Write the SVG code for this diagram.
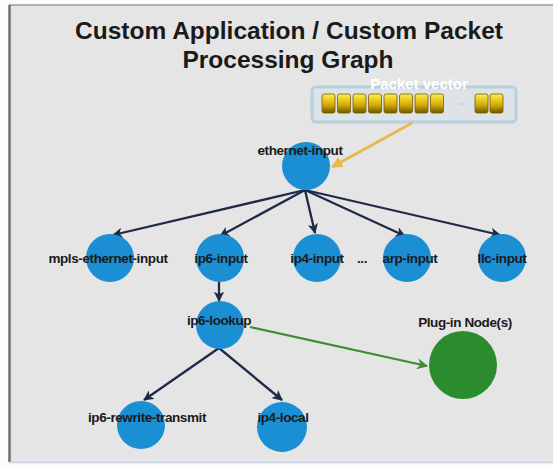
<svg xmlns="http://www.w3.org/2000/svg" width="553" height="466" viewBox="0 0 553 466">
<defs>
<marker id="ah" viewBox="0 0 10 10" refX="9" refY="5" markerWidth="4.5" markerHeight="4.5" orient="auto" markerUnits="strokeWidth">
<path d="M0,0 L10,5 L0,10 L2.5,5 z" fill="#1e2a48"/>
</marker>
<marker id="ahg" viewBox="0 0 10 10" refX="9" refY="5" markerWidth="5" markerHeight="5" orient="auto" markerUnits="strokeWidth">
<path d="M0,0 L10,5 L0,10 L3,5 z" fill="#3f8a34"/>
</marker>
<marker id="ahy" viewBox="0 0 10 10" refX="9" refY="5" markerWidth="4" markerHeight="4" orient="auto" markerUnits="strokeWidth">
<path d="M0,0 L10,5 L0,10 z" fill="#e8b84a"/>
</marker>
<linearGradient id="blk" x1="0" y1="0" x2="0" y2="1">
<stop offset="0" stop-color="#fff04a"/>
<stop offset="0.6" stop-color="#d0a800"/>
<stop offset="1" stop-color="#6e5200"/>
</linearGradient>
</defs>
<style>
.lbl{font-family:"Liberation Sans",Arial,sans-serif;font-weight:bold;font-size:13.5px;fill:#1a1a1a;text-anchor:middle;letter-spacing:-0.4px}
.title{font-family:"Liberation Sans",Arial,sans-serif;font-weight:bold;font-size:24.5px;fill:#1a1a1a;text-anchor:middle}
.node{fill:#1a8fd4}
.edge{stroke:#1e2a48;stroke-width:2.3;fill:none;marker-end:url(#ah)}
.blk{fill:url(#blk);stroke:#7a5c00;stroke-width:0.8}
</style>
<rect x="0" y="0" width="553" height="466" fill="#fbfbfb"/>
<rect x="9" y="5" width="550" height="457" fill="#e5e5e5"/>
<line x1="9" y1="5" x2="553" y2="5" stroke="#9a9a9a" stroke-width="1.5"/>
<line x1="9.5" y1="5" x2="9.5" y2="462" stroke="#6e6e72" stroke-width="2.5"/>
<line x1="9" y1="462.5" x2="553" y2="462.5" stroke="#c8cfe0" stroke-width="1.5"/>
<text class="title" x="289" y="39">Custom Application / Custom Packet</text>
<text class="title" x="288" y="68">Processing Graph</text>
<g id="packet-vector">
<rect x="312" y="87" width="204" height="35" rx="4" fill="#dde3e6" stroke="#b7d0de" stroke-width="3"/>
<text x="419" y="89" style="font-family:'Liberation Sans',Arial,sans-serif;font-weight:bold;font-size:15px;fill:#ffffff;text-anchor:middle">Packet vector</text>
<rect class="blk" x="322" y="94" width="13" height="19" rx="2"/>
<rect class="blk" x="337.5" y="94" width="13" height="19" rx="2"/>
<rect class="blk" x="353" y="94" width="13" height="19" rx="2"/>
<rect class="blk" x="368.5" y="94" width="13" height="19" rx="2"/>
<rect class="blk" x="384" y="94" width="13" height="19" rx="2"/>
<rect class="blk" x="399.5" y="94" width="13" height="19" rx="2"/>
<rect class="blk" x="415" y="94" width="13" height="19" rx="2"/>
<rect class="blk" x="430.5" y="94" width="13" height="19" rx="2"/>
<line x1="459" y1="104" x2="464" y2="104" stroke="#d8cfa0" stroke-width="1.2"/>
<rect class="blk" x="475" y="94" width="13" height="19" rx="2"/>
<rect class="blk" x="490" y="94" width="13" height="19" rx="2"/>
</g>
<g id="connectors">
<line x1="412" y1="123" x2="332" y2="167" stroke="#e8b84a" stroke-width="2.8" marker-end="url(#ahy)"/>
<line class="edge" x1="305" y1="190" x2="113" y2="235"/>
<line class="edge" x1="305" y1="190" x2="220" y2="236"/>
<line class="edge" x1="305" y1="190" x2="315" y2="233"/>
<line class="edge" x1="305" y1="190" x2="405" y2="236"/>
<line class="edge" x1="305" y1="190" x2="500" y2="235"/>
<line class="edge" x1="219" y1="282" x2="219" y2="301"/>
<line class="edge" x1="219" y1="348" x2="144" y2="400"/>
<line class="edge" x1="219" y1="348" x2="282" y2="400"/>
<line x1="250" y1="327" x2="427" y2="366" stroke="#3f8a34" stroke-width="2.2" marker-end="url(#ahg)"/>
</g>
<g id="ethernet-input">
<circle class="node" cx="306" cy="166" r="24"/>
<text class="lbl" x="300" y="155">ethernet-input</text>
</g>
<g id="mpls-ethernet-input">
<circle class="node" cx="110" cy="258" r="24"/>
<text class="lbl" x="108" y="263">mpls-ethernet-input</text>
</g>
<g id="ip6-input">
<circle class="node" cx="220" cy="258" r="24"/>
<text class="lbl" x="221" y="263">ip6-input</text>
</g>
<g id="ip4-input">
<circle class="node" cx="317" cy="258" r="24"/>
<text class="lbl" x="317" y="263">ip4-input</text>
</g>
<text class="lbl" x="362" y="263">...</text>
<g id="arp-input">
<circle class="node" cx="407" cy="258" r="24"/>
<text class="lbl" x="410" y="263">arp-input</text>
</g>
<g id="llc-input">
<circle class="node" cx="502" cy="258" r="24"/>
<text class="lbl" x="502" y="263">llc-input</text>
</g>
<g id="ip6-lookup">
<circle class="node" cx="220" cy="325" r="24"/>
<text class="lbl" x="219" y="325">ip6-lookup</text>
</g>
<g id="plug-in-nodes">
<circle cx="463" cy="365" r="34" fill="#2b8c2f"/>
<text class="lbl" x="465" y="327">Plug-in Node(s)</text>
</g>
<g id="ip6-rewrite-transmit">
<circle class="node" cx="141" cy="425" r="24"/>
<text class="lbl" x="147" y="422">ip6-rewrite-transmit</text>
</g>
<g id="ip4-local">
<circle class="node" cx="282" cy="427" r="25"/>
<text class="lbl" x="283" y="422">ip4-local</text>
</g>
</svg>
